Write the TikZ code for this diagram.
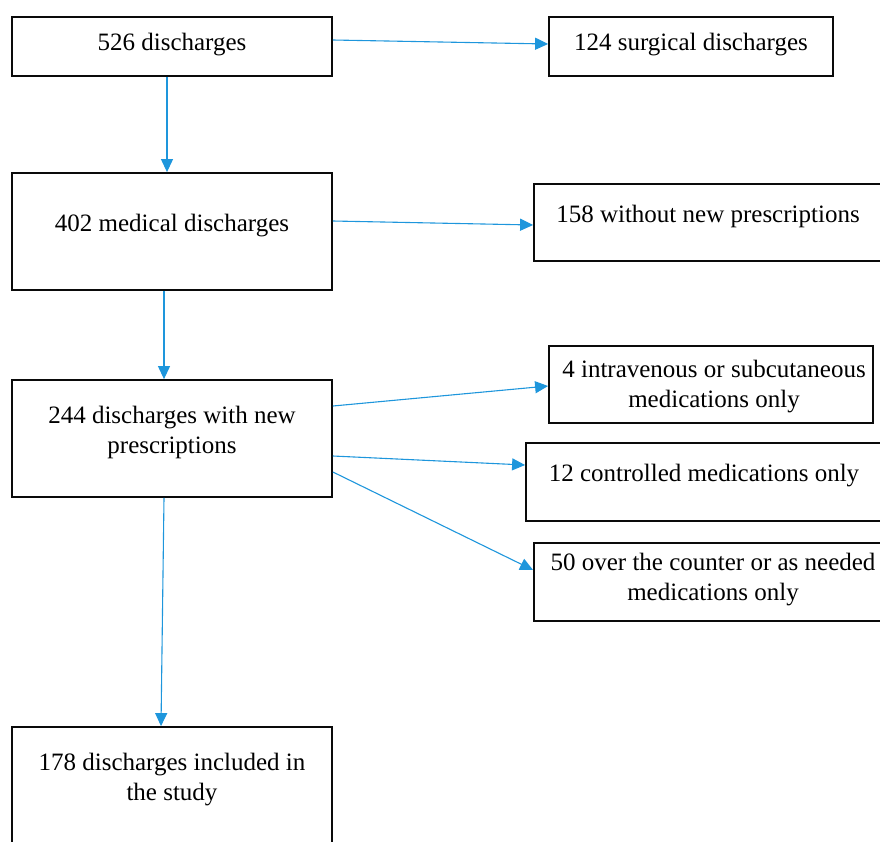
\documentclass[tikz,border=0pt]{standalone}
\usepackage{fontspec}
\setmainfont{Liberation Serif}
\usepackage{xcolor}
\usetikzlibrary{arrows.meta,calc}
\definecolor{flowblue}{RGB}{30,150,220}
\definecolor{boxline}{RGB}{10,10,10}

\begin{document}
\begin{tikzpicture}[x=1pt, y=-1pt,
    box/.style={draw=boxline, line width=1.8pt, rectangle, inner sep=0pt},
    txt/.style={align=center, font=\fontsize{25}{30}\selectfont, inner sep=0pt},
    arr/.style={flowblue, line width=1.1pt, -{Triangle[length=13pt, width=12pt]}}]

    \clip (0,0) rectangle (880,841);

    %% left column
    \node[box, minimum width=320pt, minimum height=59pt]  (b526) at (172,46.5) {};
    \node[box, minimum width=320pt, minimum height=117pt] (b402) at (172,231.5) {};
    \node[box, minimum width=320pt, minimum height=117pt] (b244) at (172,438.5) {};
    \node[box, minimum width=320pt, minimum height=146pt] (b178) at (172,800) {};

    %% right column (exclusions)
    \node[box, minimum width=284pt, minimum height=59pt] (b124) at (691,46.5) {};
    \node[box, minimum width=348pt, minimum height=77pt] (b158) at (708,222.5) {};
    \node[box, minimum width=324pt, minimum height=77pt] (b4)   at (711,384.5) {};
    \node[box, minimum width=356pt, minimum height=78pt] (b12)  at (704,482) {};
    \node[box, minimum width=358pt, minimum height=78pt] (b50)  at (713,582) {};

    %% texts
    \node[txt, anchor=base] (t526) at (172,50)  {526 discharges};
    \node[txt, anchor=base] (t402) at (172,231) {402 medical discharges};
    \node[txt] (t244) at (172,432.4) {244 discharges with new\\prescriptions};
    \node[txt] (t178) at (172,779.4) {178 discharges included in\\the study};

    \node[txt, anchor=base] (t124) at (691,50)  {124 surgical discharges};
    \node[txt, anchor=base] (t158) at (708,222) {158 without new prescriptions};
    \node[txt] (t4) at (714,386.4) {4 intravenous or subcutaneous\\medications only};
    \node[txt, anchor=base] (t12) at (704,481) {12 controlled medications only};
    \node[txt] (t50) at (713,579.4) {50 over the counter or as needed\\medications only};

    %% flow arrows
    \draw[arr] ([yshift=6.5pt]b526.east) -- ([yshift=2.5pt]b124.west);
    \draw[arr] ([xshift=-5pt]b526.south) -- ([xshift=-5pt]b402.north);
    \draw[arr] ([yshift=10.5pt]b402.east) -- ([yshift=-2.5pt]b158.west);
    \draw[arr] ([xshift=-8pt]b402.south) -- ([xshift=-8pt]b244.north);
    \draw[arr] ([yshift=32.5pt]b244.east) -- ([yshift=-1.5pt]b4.west);
    \draw[arr] ([yshift=-17.5pt]b244.east) -- ([yshift=17pt]b12.west);
    \draw[arr] ([yshift=-33.5pt]b244.east) -- ([yshift=12pt]b50.west);
    \draw[arr] ([xshift=-8pt]b244.south) -- ([xshift=-11pt]b178.north);

\end{tikzpicture}
\end{document}
